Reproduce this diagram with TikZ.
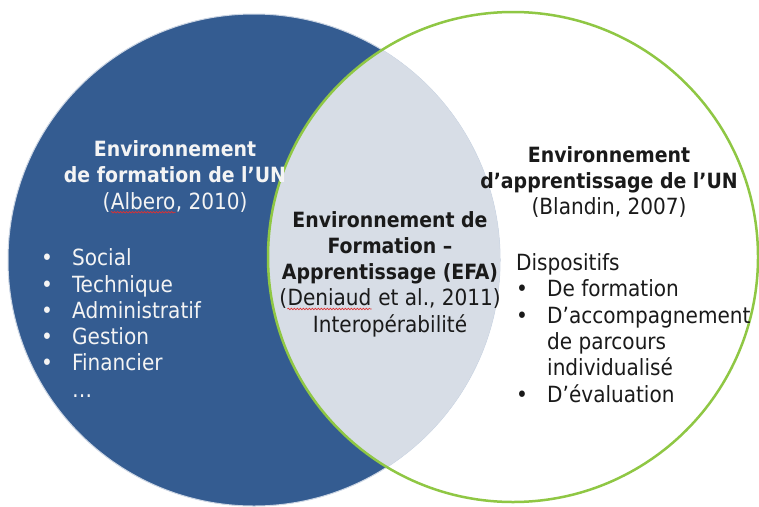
\documentclass[tikz,border=0pt]{standalone}
\usepackage{fontspec}
\setmainfont{DejaVu Sans Condensed}
\usetikzlibrary{decorations.pathmorphing}
\definecolor{cNavy}{HTML}{345C91}
\definecolor{lMist}{HTML}{D7DDE6}
\definecolor{cLeaf}{HTML}{8FC744}
\definecolor{inkK}{HTML}{1A1A1A}
\definecolor{inkW}{HTML}{F4F4F4}
\definecolor{cSpell}{HTML}{E03030}
\newcommand\spellmark[1]{\tikz[baseline=(sw.base)]{%
  \node[inner sep=0pt] (sw) {#1};
  \draw[cSpell, line width=0.6pt, decorate,
        decoration={snake, amplitude=0.8pt, segment length=3pt}]
    ([yshift=-2.5pt]sw.south west) -- ([yshift=-2.5pt]sw.south east);}}
\newcommand\bul{\makebox[31pt][l]{•}}
\newcommand\nobul{\makebox[31pt][l]{}}
\newcommand\hd[1]{{\fontsize{21}{26.5}\selectfont\bfseries #1}}

\begin{document}
\begin{tikzpicture}[x=1pt, y=-1pt,
  txt/.style={font=\fontsize{22.3}{26.3}\selectfont, inner sep=0pt},
  head/.style={txt, align=center}]
  \fill[white] (0,0) rectangle (759,506);
  \useasboundingbox (0,0) rectangle (759,506);

  % the two sets
  \node[circle, fill=cNavy, draw=white!75!cNavy, line width=1pt,
        minimum size=492pt, inner sep=0pt] (fmt) at (254,260) {};
  \coordinate (appc) at (513,257);
  \begin{scope}
    \clip (fmt.center) circle[radius=246pt];
    \fill[lMist] (appc) circle[radius=245pt];
  \end{scope}
  \node[circle, draw=cLeaf, line width=2.5pt,
        minimum size=490pt, inner sep=0pt] (app) at (appc) {};

  % left set
  \node[head, text=inkW] (fmtHead) at (175,177) {
    \hd{Environnement}\\
    \hd{de formation de l’UN}\\
    (\spellmark{Albero}, 2010)
  };
  \node[txt, align=left, text=inkW, anchor=west] (fmtList) at (41,323) {
    \bul Social\\
    \bul Technique\\
    \bul Administratif\\
    \bul Gestion\\
    \bul Financier\\
    \nobul …
  };

  % intersection
  \node[head, text=inkK] (efa) at (390,274) {
    \hd{Environnement de}\\
    \hd{Formation –}\\
    \hd{Apprentissage (EFA)}\\
    (\spellmark{Deniaud} et al., 2011)\\
    Interopérabilité
  };

  % right set
  \node[head, text=inkK] (appHead) at (609,182) {
    \hd{Environnement}\\
    \hd{d’apprentissage de l’UN}\\
    (Blandin, 2007)
  };
  \node[txt, align=left, text=inkK, anchor=west] (appList) at (516,328) {
    Dispositifs\\
    \bul De formation\\
    \bul D’accompagnement\\
    \nobul de parcours\\
    \nobul individualisé\\
    \bul D’évaluation
  };
\end{tikzpicture}
\end{document}
